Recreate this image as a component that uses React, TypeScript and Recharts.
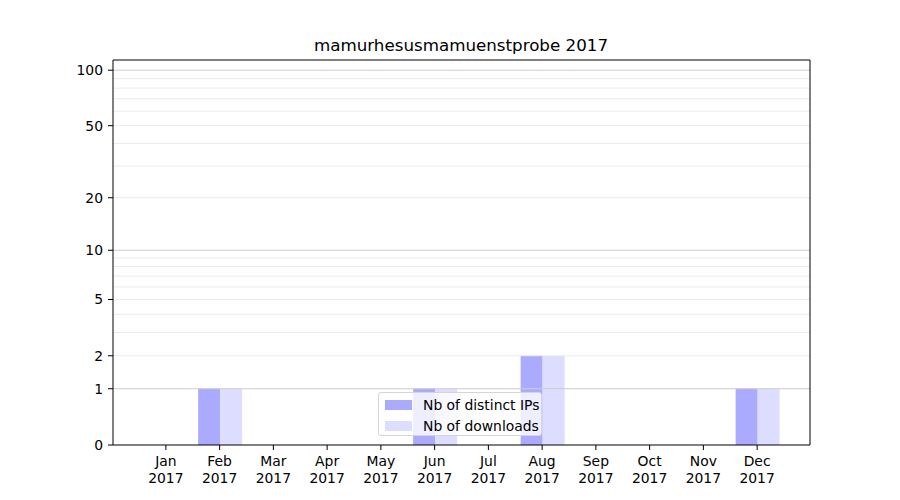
import React from 'react';
import { BarChart, Bar, XAxis, YAxis, ReferenceLine } from 'recharts';

const months = ['Jan', 'Feb', 'Mar', 'Apr', 'May', 'Jun', 'Jul', 'Aug', 'Sep', 'Oct', 'Nov', 'Dec'];
const yearLabel = '2017';
const distinctIps = [0, 1, 0, 0, 0, 1, 0, 2, 0, 0, 0, 1];
const downloads = [0, 1, 0, 0, 0, 1, 0, 2, 0, 0, 0, 1];
const yTickValues = [0, 1, 2, 5, 10, 20, 50, 100];
const majorGrid = [1, 10, 100];
const minorGrid = [2, 3, 4, 5, 6, 7, 8, 9, 20, 30, 40, 50, 60, 70, 80, 90];
const yTop = 113.5;
const title = 'mamurhesusmamuenstprobe 2017';

const tf = (v: number) => Math.log10(v + 1);

const data = months.map((m, i) => ({
  month: m,
  ips: tf(distinctIps[i]),
  dl: tf(downloads[i]),
}));

const FONT = '"DejaVu Sans", sans-serif';

const XTick = (props: any) => {
  const { x, y, payload } = props;
  return (
    <text x={x} y={y} textAnchor="middle" fontFamily={FONT} fontSize={13.9} fill="#000">
      <tspan x={x} dy={11}>{payload.value}</tspan>
      <tspan x={x} dy={16.7}>{yearLabel}</tspan>
    </text>
  );
};

export default function App() {
  return (
    <div style={{ position: 'absolute', left: 0, top: 0, width: 900, height: 500, background: '#fff' }}>
      <BarChart
        width={900}
        height={500}
        data={data}
        margin={{ top: 60, right: 89, left: 53, bottom: 0 }}
        barCategoryGap="10%"
        barGap={0}
      >
        {minorGrid.map((g) => (
          <ReferenceLine key={'m' + g} y={tf(g)} stroke="#ebebeb" strokeWidth={1} />
        ))}
        {majorGrid.map((g) => (
          <ReferenceLine key={'M' + g} y={tf(g)} stroke="#cccccc" strokeWidth={1} />
        ))}
        <XAxis
          dataKey="month"
          height={55}
          padding={{ left: 26, right: 26 }}
          tick={<XTick />}
          tickSize={5}
          tickMargin={5}
          axisLine={{ stroke: '#000', strokeWidth: 1 }}
          tickLine={{ stroke: '#000' }}
          interval={0}
        />
        <YAxis
          type="number"
          width={60}
          domain={[0, tf(yTop)]}
          ticks={yTickValues.map(tf)}
          tickFormatter={(v: number) => String(Math.round(Math.pow(10, v) - 1))}
          tickSize={5}
          tickMargin={5}
          axisLine={{ stroke: '#000', strokeWidth: 1 }}
          tickLine={{ stroke: '#000' }}
          tick={{ fontFamily: FONT, fontSize: 13.9, fill: '#000' }}
          allowDataOverflow
          interval={0}
        />
        <YAxis
          yAxisId="right"
          orientation="right"
          width={1}
          domain={[0, tf(yTop)]}
          tick={false}
          tickLine={false}
          axisLine={{ stroke: '#000', strokeWidth: 1 }}
        />
        <Bar dataKey="ips" fill="#aaaaff" isAnimationActive={false} />
        <Bar dataKey="dl" fill="#ddddff" isAnimationActive={false} />
        <ReferenceLine y={tf(yTop)} stroke="#000" strokeWidth={1} />
      </BarChart>
      <div
        style={{
          position: 'absolute',
          left: 0,
          top: 35,
          width: 922,
          textAlign: 'center',
          fontFamily: FONT,
          fontSize: 16.7,
          lineHeight: '20px',
          color: '#000',
        }}
      >
        {title}
      </div>
      <div
        style={{
          position: 'absolute',
          left: 378,
          top: 392,
          width: 164,
          height: 44,
          boxSizing: 'border-box',
          background: 'rgba(255,255,255,0.8)',
          border: '1px solid #d5d5d5',
          borderRadius: 3,
          fontFamily: FONT,
          fontSize: 13.9,
          color: '#000',
        }}
      >
        <div style={{ position: 'absolute', left: 6, top: 7, width: 27, height: 10, background: '#aaaaff' }} />
        <div style={{ position: 'absolute', left: 44, top: 2, lineHeight: '20px', whiteSpace: 'nowrap' }}>
          Nb of distinct IPs
        </div>
        <div style={{ position: 'absolute', left: 6, top: 28, width: 27, height: 10, background: '#ddddff' }} />
        <div style={{ position: 'absolute', left: 44, top: 23, lineHeight: '20px', whiteSpace: 'nowrap' }}>
          Nb of downloads
        </div>
      </div>
    </div>
  );
}
